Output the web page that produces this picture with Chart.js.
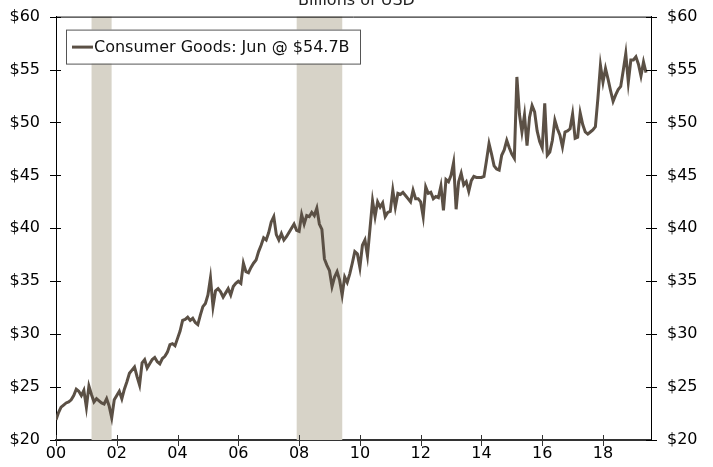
<!DOCTYPE html>
<html>
<head>
<meta charset="utf-8">
<script src="https://cdn.jsdelivr.net/npm/chart.js@4.4.1/dist/chart.umd.min.js"></script>
<style>
  html, body { margin: 0; padding: 0; background: #fff; overflow: hidden; }
  #wrap { position: relative; top: -9px; width: 713px; height: 476px; }
</style>
</head>
<body>
<div id="wrap"><canvas id="chart" width="713" height="476"></canvas></div>
<script>
// monthly, Jan 2000 .. Jun 2019, billions of USD
const startYear = 2000;
const consumerGoods = [
  21.9, 22.6, 23.1, 23.3, 23.5, 23.6, 23.8, 24.2, 24.8, 24.6, 24.2, 24.7, // 2000
  23.1, 25.1, 24.3, 23.6, 23.9, 23.7, 23.5, 23.4, 23.9, 23.2, 22.1, 23.8, // 2001
  24.2, 24.6, 23.9, 24.8, 25.5, 26.3, 26.6, 26.9, 26.0, 25.2, 27.3, 27.6, // 2002
  26.8, 27.2, 27.6, 27.8, 27.4, 27.2, 27.7, 27.9, 28.3, 29.0, 29.1, 28.9, // 2003
  29.6, 30.3, 31.3, 31.4, 31.6, 31.3, 31.5, 31.1, 30.9, 31.8, 32.6, 32.9, // 2004
  33.7, 35.3, 32.6, 34.1, 34.3, 34.0, 33.5, 33.9, 34.3, 33.7, 34.5, 34.8, // 2005
  35.0, 34.8, 36.7, 35.9, 35.8, 36.3, 36.7, 37.0, 37.8, 38.4, 39.1, 38.9, // 2006
  39.6, 40.6, 41.1, 39.4, 38.9, 39.5, 38.9, 39.2, 39.6, 40.0, 40.4, 39.8, // 2007
  39.7, 41.3, 40.4, 41.2, 41.1, 41.5, 41.2, 41.9, 40.4, 39.9, 37.1, 36.5, // 2008
  36.0, 34.5, 35.4, 35.9, 35.1, 33.7, 35.4, 34.9, 35.7, 36.7, 37.8, 37.6, // 2009
  36.3, 38.4, 38.9, 37.4, 40.0, 42.6, 41.1, 42.5, 42.0, 42.4, 41.1, 41.5, // 2010
  41.6, 43.6, 42.0, 43.3, 43.2, 43.4, 43.1, 42.8, 42.5, 43.6, 42.8, 42.8, // 2011
  42.5, 41.1, 43.9, 43.3, 43.4, 42.8, 43.0, 42.9, 44.0, 41.7, 44.6, 44.4, // 2012
  45.0, 46.2, 41.8, 44.4, 45.2, 44.1, 44.4, 43.5, 44.5, 44.9, 44.8, 44.8, // 2013
  44.8, 44.9, 46.4, 48.0, 47.0, 45.9, 45.6, 45.5, 46.9, 47.4, 48.3, 47.6, // 2014
  47.0, 46.6, 54.3, 50.8, 49.1, 50.7, 47.8, 50.5, 51.6, 51.0, 49.2, 48.2, // 2015
  47.6, 51.8, 46.9, 47.2, 48.3, 50.2, 49.4, 48.8, 47.7, 49.1, 49.2, 49.4, // 2016
  50.8, 48.5, 48.6, 50.9, 49.8, 49.1, 48.9, 49.1, 49.3, 49.6, 52.3, 55.4, // 2017
  53.8, 55.1, 54.1, 53.0, 52.0, 52.6, 53.1, 53.4, 54.9, 56.5, 53.8, 55.9, // 2018
  55.9, 56.2, 55.5, 54.4, 55.7, 54.7                                      // 2019
];
const recessions = [[2001.17, 2001.83], [2007.92, 2009.42]];
const xTicks = [2000, 2002, 2004, 2006, 2008, 2010, 2012, 2014, 2016, 2018];
const xTickLabels = ['00', '02', '04', '06', '08', '10', '12', '14', '16', '18'];
const yTicks = [20, 25, 30, 35, 40, 45, 50, 55, 60];
const seriesLabel = 'Consumer Goods: Jun @ $54.7B';

const lineColor = '#5b5045';
const shadeColor = '#d7d3c8';
const font = { family: 'DejaVu Sans', size: 16 };

const shading = {
  id: 'shading',
  beforeDatasetsDraw(chart) {
    const { ctx, chartArea: a, scales: { x } } = chart;
    ctx.save();
    ctx.fillStyle = shadeColor;
    recessions.forEach(([s, e]) => {
      const x1 = x.getPixelForValue(s), x2 = x.getPixelForValue(e);
      ctx.fillRect(x1, a.top, x2 - x1, a.bottom - a.top);
    });
    ctx.restore();
  }
};

// crossing tick marks, top border and boxed legend
const frame = {
  id: 'frame',
  afterDraw(chart) {
    const { ctx, chartArea: a, scales: { x, y } } = chart;
    ctx.save();
    ctx.strokeStyle = '#000';
    ctx.lineWidth = 1;
    ctx.beginPath();
    ctx.moveTo(a.left, a.top + 0.5);
    ctx.lineTo(a.right, a.top + 0.5);
    yTicks.forEach(v => {
      const py = Math.round(y.getPixelForValue(v)) + 0.5;
      ctx.moveTo(a.left - 6, py); ctx.lineTo(a.left + 5, py);
      ctx.moveTo(a.right - 5, py); ctx.lineTo(a.right + 6, py);
    });
    ctx.stroke();
    ctx.strokeStyle = '#333';
    ctx.beginPath();
    xTicks.forEach(v => {
      const px = Math.round(x.getPixelForValue(v)) + 0.5;
      ctx.moveTo(px, a.bottom - 5); ctx.lineTo(px, a.bottom + 6);
    });
    ctx.stroke();

    const bx = a.left + 10, by = a.top + 13, bw = 294, bh = 34;
    ctx.fillStyle = '#fff';
    ctx.fillRect(bx, by, bw, bh);
    ctx.strokeStyle = '#555';
    ctx.strokeRect(bx + 0.5, by + 0.5, bw, bh);
    ctx.strokeStyle = lineColor;
    ctx.lineWidth = 3;
    ctx.beginPath();
    ctx.moveTo(bx + 6, by + bh / 2 + 0.5);
    ctx.lineTo(bx + 27, by + bh / 2 + 0.5);
    ctx.stroke();
    ctx.fillStyle = '#111';
    ctx.font = font.size + 'px ' + font.family;
    ctx.textBaseline = 'middle';
    ctx.fillText(seriesLabel, bx + 28, by + bh / 2 + 1);
    ctx.restore();
  }
};

const yAxis = (position, width) => ({
  position,
  min: 20,
  max: 60,
  afterBuildTicks: s => { s.ticks = yTicks.map(v => ({ value: v })); },
  afterFit: s => { s.width = width; },
  ticks: { color: '#000', font, padding: 16, callback: v => '$' + v },
  grid: { display: false, drawTicks: false },
  border: { display: true, color: '#000', width: 1 }
});

new Chart(document.getElementById('chart'), {
  type: 'line',
  data: {
    datasets: [{
      label: seriesLabel,
      data: consumerGoods.map((v, i) => ({ x: startYear + i / 12, y: v })),
      borderColor: lineColor,
      borderWidth: 3,
      pointRadius: 0,
      tension: 0
    }]
  },
  options: {
    responsive: false,
    devicePixelRatio: 1,
    animation: false,
    layout: { padding: 0 },
    plugins: {
      legend: { display: false },
      tooltip: { enabled: false },
      title: {
        display: true,
        text: 'Billions of USD',
        color: '#222',
        font: { family: 'DejaVu Sans', size: 16, weight: 'normal' },
        padding: { top: 0, bottom: 6 }
      }
    },
    scales: {
      x: {
        type: 'linear',
        min: 2000,
        max: 2019.58,
        afterBuildTicks: s => { s.ticks = xTicks.map(v => ({ value: v })); },
        afterFit: s => { s.height = 27; },
        ticks: {
          color: '#000', font, padding: 4, maxRotation: 0, autoSkip: false,
          callback: v => xTickLabels[xTicks.indexOf(v)]
        },
        grid: { display: false, drawTicks: false },
        border: { display: true, color: '#333', width: 2 }
      },
      y: yAxis('left', 56),
      y2: yAxis('right', 62)
    }
  },
  plugins: [shading, frame]
});
</script>
</body>
</html>
